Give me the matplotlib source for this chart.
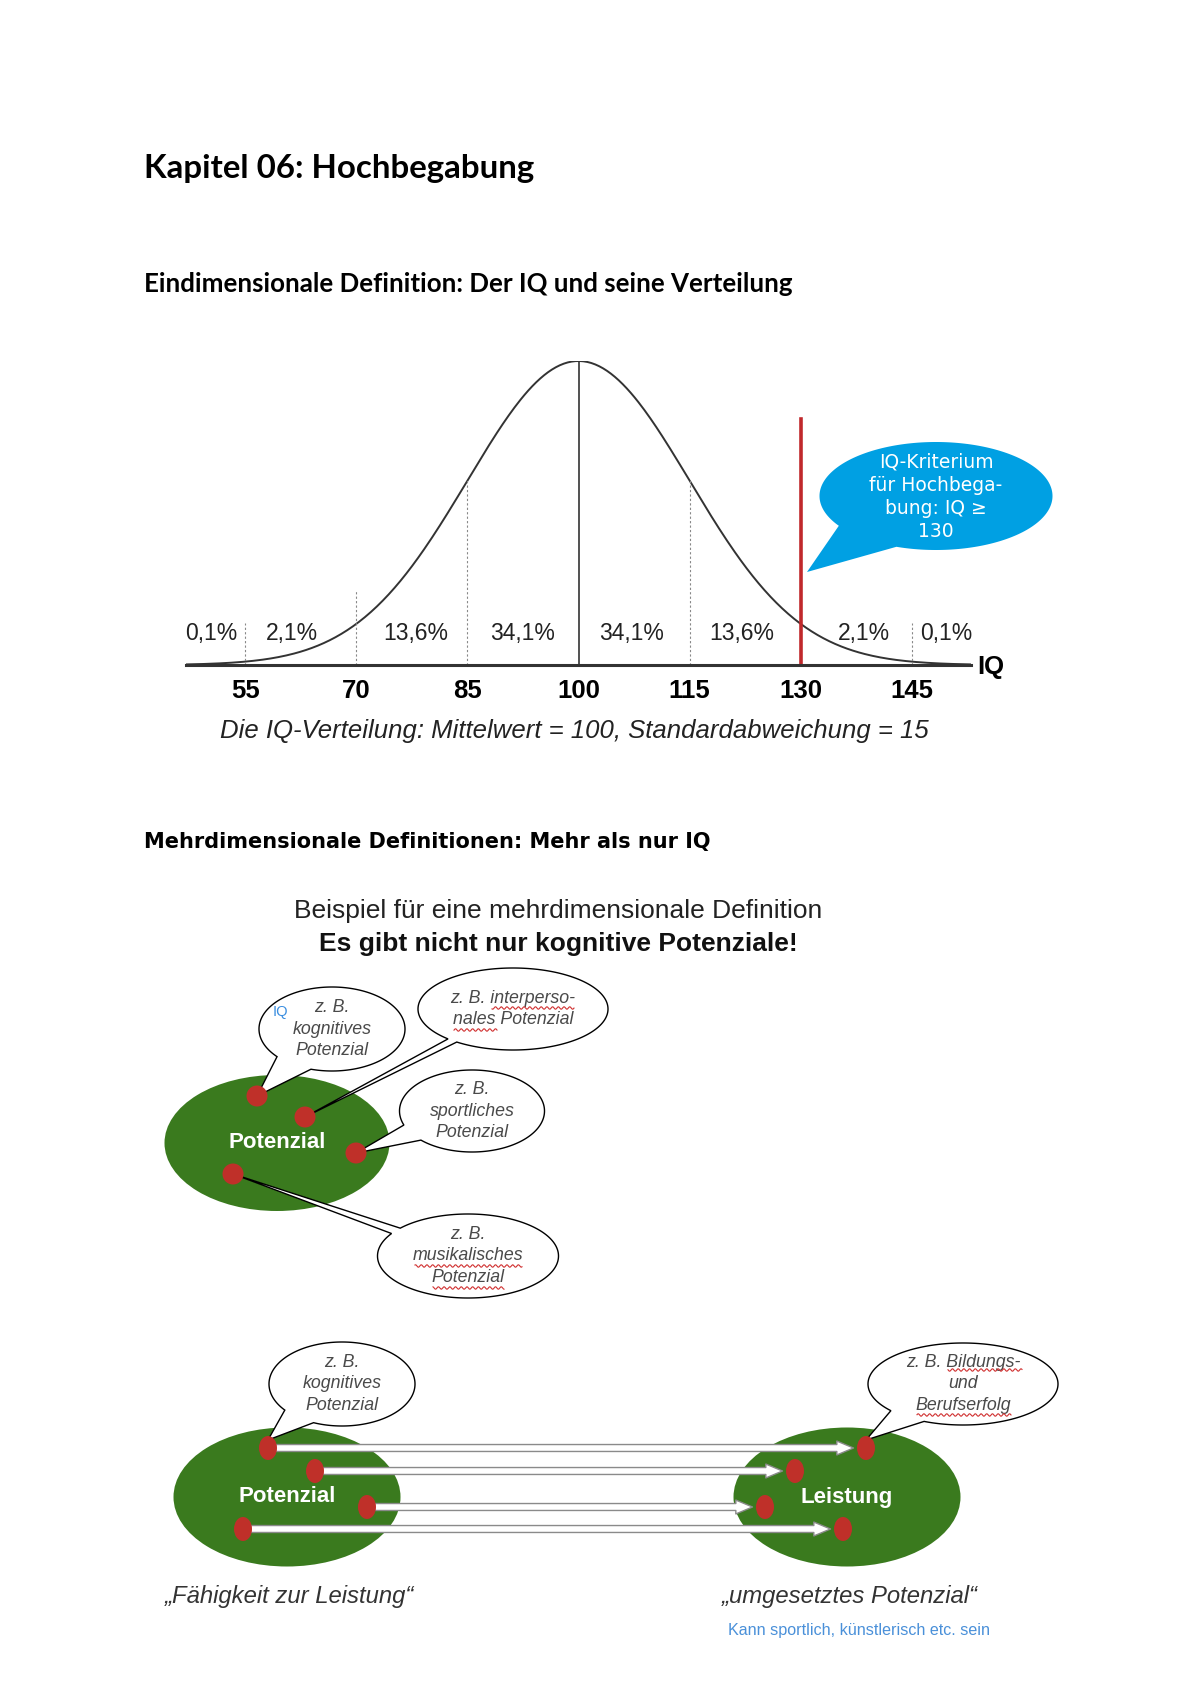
import numpy as np
import matplotlib
matplotlib.use('Agg')
import matplotlib.pyplot as plt
from matplotlib.patches import Ellipse, Polygon, FancyArrowPatch

# ---- data ----
IQ_MEAN = 100
IQ_SD = 15
IQ_TICKS = [55, 70, 85, 100, 115, 130, 145]
PERCENT_LABELS = ['0,1%', '2,1%', '13,6%', '34,1%', '34,1%', '13,6%', '2,1%', '0,1%']
PERCENT_POS = [50.4, 61.3, 78.0, 92.5, 107.2, 122.1, 138.6, 149.6]
DIVIDERS = [55, 70, 85, 115, 145]
DIVIDER_TOP = [0.137, 0.246, 0.607, 0.607, 0.137]
CRITERION = 130

POT_LABELS = ['z. B.\nkognitives\nPotenzial',
              'z. B. interperso-\nnales Potenzial',
              'z. B.\nsportliches\nPotenzial',
              'z. B.\nmusikalisches\nPotenzial']

GREEN = '#3A7A1E'
RED = '#BF3029'
BLUE = '#00A0E3'
TXT_GRAY = '#4a4a4a'
HEAD = ['Lato', 'DejaVu Sans']
SANS = ['Liberation Sans', 'DejaVu Sans']

W, H = 1200, 1698
fig = plt.figure(figsize=(W / 100, H / 100), dpi=100)
ax = fig.add_axes([0, 0, 1, 1])
ax.set_xlim(0, W)
ax.set_ylim(H, 0)
ax.axis('off')


def bubble(cx, cy, w, h, tip, half=0.25, fc='white', ec='black', lw=1.0, z=3):
    ang = np.arctan2((tip[1] - cy) / (h / 2), (tip[0] - cx) / (w / 2))
    t = np.linspace(ang + half, ang + 2 * np.pi - half, 240)
    pts = np.column_stack([cx + w / 2 * np.cos(t), cy + h / 2 * np.sin(t)])
    pts = np.vstack([pts, [tip]])
    ax.add_patch(Polygon(pts, closed=True, fc=fc, ec=ec if ec else 'none', lw=lw, zorder=z))


def squiggle(x0, x1, y):
    # red spell-check underline
    xs = np.linspace(x0, x1, int((x1 - x0) * 2))
    ax.plot(xs, y + 1.2 * np.sin(xs * 1.1), color='#D03030', lw=0.8, zorder=6)


# ---- headings ----
ax.text(144, 168, 'Kapitel 06: Hochbegabung', family=HEAD, weight='bold',
        fontsize=23.8, va='center', ha='left')
ax.text(144, 284, 'Eindimensionale Definition: Der IQ und seine Verteilung',
        family=HEAD, weight='bold', fontsize=18.6, va='center', ha='left')
ax.text(144, 842, 'Mehrdimensionale Definitionen: Mehr als nur IQ',
        family=['DejaVu Sans'], weight='bold', fontsize=15, va='center', ha='left')

# ---- bell curve ----
bx = fig.add_axes([186 / W, (H - 665) / H, (971 - 186) / W, (665 - 361) / H])
x = np.linspace(47, 153, 400)
y = np.exp(-0.5 * ((x - IQ_MEAN) / IQ_SD) ** 2)
bx.plot(x, y, color='#333333', lw=1.4)
bx.set_xlim(47, 153)
bx.set_ylim(0, 1)
bx.patch.set_alpha(0)
for s in ['top', 'right', 'left']:
    bx.spines[s].set_visible(False)
bx.spines['bottom'].set_linewidth(2.2)
bx.spines['bottom'].set_color('#333333')
bx.set_yticks([])
bx.set_xticks(IQ_TICKS)
bx.set_xticklabels([str(v) for v in IQ_TICKS], family=SANS, weight='bold', fontsize=18.5)
bx.tick_params(axis='x', length=0, pad=10)
bx.plot([IQ_MEAN, IQ_MEAN], [0, 1], color='#333333', lw=1.2)
for d, top in zip(DIVIDERS, DIVIDER_TOP):
    bx.plot([d, d], [0, top], color='#888888', lw=0.8, ls=(0, (2, 2)))
bx.plot([CRITERION, CRITERION], [0, 0.81], color='#C0282B', lw=2.6)
for p, lab in zip(PERCENT_POS, PERCENT_LABELS):
    bx.text(p, 0.105, lab, family=SANS, fontsize=16.5, ha='center', va='center',
            color='#222222')
bx.text(155.7, -0.005, 'IQ', family=SANS, weight='bold', fontsize=18.5, ha='center',
        va='center', clip_on=False)

ax.text(574, 731, 'Die IQ-Verteilung: Mittelwert = 100, Standardabweichung = 15',
        family=SANS, style='italic', fontsize=18.5, ha='center', va='center',
        color='#222222')

# blue callout
bubble(936, 496, 233, 108, (807, 572), half=0.32, fc=BLUE, ec=None, z=4)
ax.text(936, 497, 'IQ-Kriterium\nfür Hochbega-\nbung: IQ ≥\n130', family=['DejaVu Sans'],
        fontsize=13.5, color='white', ha='center', va='center', linespacing=1.27, zorder=5)

# ---- multidimensional diagram ----
ax.text(558, 911, 'Beispiel für eine mehrdimensionale Definition', family=SANS,
        fontsize=19, ha='center', va='center', color='#222222')
ax.text(558, 944, 'Es gibt nicht nur kognitive Potenziale!', family=SANS,
        weight='bold', fontsize=19, ha='center', va='center', color='#111111')

ax.add_patch(Ellipse((277, 1143), 225, 136, fc=GREEN, ec='none', zorder=2))
ax.text(277, 1143, 'Potenzial', family=SANS, weight='bold', fontsize=16,
        color='white', ha='center', va='center', zorder=3)

top_dots = [(257, 1096), (305, 1117), (356, 1153), (233, 1174)]
top_bubbles = [(332, 1029, 146, 84, 0.28), (513, 1009, 190, 82, 0.06),
               (472, 1111, 145, 82, 0.22), (468, 1256, 181, 84, 0.08)]
for (cx, cy, bw, bh, hf), dot, lab in zip(top_bubbles, top_dots, POT_LABELS):
    bubble(cx, cy, bw, bh, dot, half=hf, lw=1.0)
    ax.text(cx, cy, lab, family=SANS, style='italic', fontsize=12.8, color=TXT_GRAY,
            ha='center', va='center', linespacing=1.37, zorder=4)
ax.text(280, 1012, 'IQ', family=SANS, fontsize=10.5, color='#3A8EE0', ha='center',
        va='center', zorder=4)
for d in top_dots:
    ax.add_patch(Ellipse(d, 21, 21, fc=RED, ec='none', zorder=5))

squiggle(492, 574, 1008)
squiggle(454, 497, 1030)
squiggle(415, 522, 1266)
squiggle(433, 504, 1288)

# ---- potential -> performance ----
ax.add_patch(Ellipse((287, 1497), 227, 139, fc=GREEN, ec='none', zorder=2))
ax.add_patch(Ellipse((847, 1497), 227, 139, fc=GREEN, ec='none', zorder=2))
ax.text(287, 1497, 'Potenzial', family=SANS, weight='bold', fontsize=16,
        color='white', ha='center', va='center', zorder=3)
ax.text(847, 1497, 'Leistung', family=SANS, weight='bold', fontsize=16,
        color='white', ha='center', va='center', zorder=3)

left_dots = [(268, 1448), (315, 1471), (367, 1507), (243, 1529)]
right_dots = [(866, 1448), (795, 1471), (765, 1507), (843, 1529)]
for a, b in zip(left_dots, right_dots):
    arr = FancyArrowPatch(a, b, arrowstyle='simple,head_length=12,head_width=10,tail_width=5',
                          mutation_scale=1, shrinkA=0, shrinkB=9,
                          fc='white', ec='#8a8a8a', lw=1.0, zorder=4)
    ax.add_patch(arr)
for d in left_dots + right_dots:
    ax.add_patch(Ellipse(d, 18, 24, fc=RED, ec='none', zorder=5))

bubble(342, 1384, 146, 84, (268, 1440), half=0.25, lw=1.0)
ax.text(342, 1384, 'z. B.\nkognitives\nPotenzial', family=SANS, style='italic',
        fontsize=12.8, color=TXT_GRAY, ha='center', va='center', linespacing=1.37, zorder=4)
bubble(963, 1384, 190, 82, (866, 1440), half=0.22, lw=1.0)
ax.text(963, 1384, 'z. B. Bildungs-\nund\nBerufserfolg', family=SANS, style='italic',
        fontsize=12.8, color=TXT_GRAY, ha='center', va='center', linespacing=1.37, zorder=4)
squiggle(948, 1022, 1370)
squiggle(917, 1011, 1415)

ax.text(165, 1597, '„Fähigkeit zur Leistung“', family=SANS, style='italic',
        fontsize=17.2, color='#333333', ha='left', va='center')
ax.text(722, 1597, '„umgesetztes Potenzial“', family=SANS, style='italic',
        fontsize=17.2, color='#333333', ha='left', va='center')
ax.text(728, 1630, 'Kann sportlich, künstlerisch etc. sein', family=SANS,
        fontsize=11.6, color='#4A90D9', ha='left', va='center')

fig.savefig('out.png', dpi=100)
